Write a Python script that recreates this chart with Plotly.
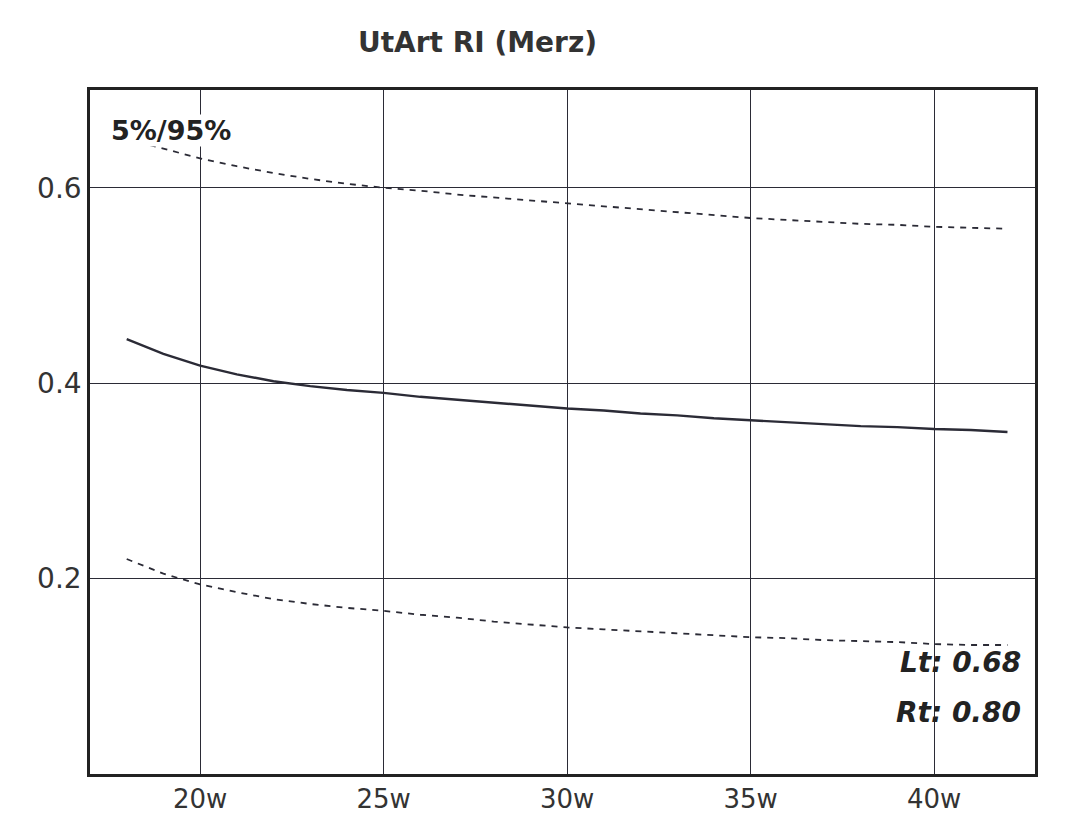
import plotly.graph_objects as go

weeks = [18, 19, 20, 21, 22, 23, 24, 25, 26, 27, 28, 29, 30,
         31, 32, 33, 34, 35, 36, 37, 38, 39, 40, 41, 42]
p95 = [0.650, 0.640, 0.630, 0.622, 0.615, 0.609, 0.604, 0.600, 0.597, 0.593,
       0.590, 0.587, 0.584, 0.581, 0.578, 0.575, 0.572, 0.569, 0.567, 0.565,
       0.563, 0.562, 0.560, 0.559, 0.558]
p50 = [0.445, 0.430, 0.418, 0.409, 0.402, 0.397, 0.393, 0.390, 0.386, 0.383,
       0.380, 0.377, 0.374, 0.372, 0.369, 0.367, 0.364, 0.362, 0.360, 0.358,
       0.356, 0.355, 0.353, 0.352, 0.350]
p5 = [0.220, 0.205, 0.194, 0.186, 0.179, 0.174, 0.170, 0.167, 0.163, 0.160,
      0.156, 0.153, 0.150, 0.148, 0.146, 0.144, 0.142, 0.140, 0.139, 0.137,
      0.136, 0.135, 0.133, 0.132, 0.132]
x_ticks = [20, 25, 30, 35, 40]
x_tick_labels = ["20w", "25w", "30w", "35w", "40w"]
y_ticks = [0.2, 0.4, 0.6]
y_tick_labels = ["0.2", "0.4", "0.6"]

FONT = "DejaVu Sans"
INK = "#2b2b36"
PW, PH = 945, 684  # plot area size in px

fig = go.Figure()
fig.add_trace(go.Scatter(x=weeks, y=p95, mode="lines",
                         line=dict(color=INK, width=1.8, dash="6px,6px"),
                         showlegend=False, hoverinfo="skip"))
fig.add_trace(go.Scatter(x=weeks, y=p50, mode="lines",
                         line=dict(color=INK, width=2.4),
                         showlegend=False, hoverinfo="skip"))
fig.add_trace(go.Scatter(x=weeks, y=p5, mode="lines",
                         line=dict(color=INK, width=1.8, dash="6px,6px"),
                         showlegend=False, hoverinfo="skip"))

fig.update_layout(
    width=1055, height=809,
    margin=dict(l=82, r=28, t=82, b=43),
    paper_bgcolor="white", plot_bgcolor="white",
    font=dict(family=FONT, color="#333333", size=28),
    xaxis=dict(range=[17, 42.75], tickvals=x_ticks, ticktext=x_tick_labels,
               showgrid=True, gridcolor=INK, gridwidth=1.2, automargin=False,
               showline=True, linecolor="#222222", linewidth=2.5, mirror=True,
               ticks="", zeroline=False, tickfont=dict(size=26, family=FONT)),
    yaxis=dict(range=[0, 0.7], tickvals=y_ticks, ticktext=y_tick_labels,
               showgrid=True, gridcolor=INK, gridwidth=1.2, automargin=False,
               showline=True, linecolor="#222222", linewidth=2.5, mirror=True,
               ticks="", zeroline=False, tickfont=dict(size=28, family=FONT)),
    annotations=[
        dict(text="<b>UtArt RI (Merz)</b>", xref="paper", yref="paper",
             x=(475 - 88) / PW, y=1 + 48 / PH, xanchor="center", yanchor="middle",
             showarrow=False, font=dict(size=28, family=FONT, color="#333333")),
        dict(text="<b>5%/95%</b>", xref="paper", yref="paper",
             x=20 / PW, y=1 - 40 / PH, xanchor="left", yanchor="middle",
             showarrow=False, bgcolor="white", borderpad=0,
             font=dict(size=27, family=FONT, color="#222222")),
        dict(text="<b><i>Lt: 0.68</i></b>", xref="paper", yref="paper",
             x=1 - 12 / PW, y=(772 - 660) / PH, xanchor="right", yanchor="middle",
             showarrow=False, font=dict(size=28, family=FONT, color="#222222")),
        dict(text="<b><i>Rt: 0.80</i></b>", xref="paper", yref="paper",
             x=1 - 12 / PW, y=(772 - 710) / PH, xanchor="right", yanchor="middle",
             showarrow=False, font=dict(size=28, family=FONT, color="#222222")),
    ],
)

fig.write_html("out.html")
